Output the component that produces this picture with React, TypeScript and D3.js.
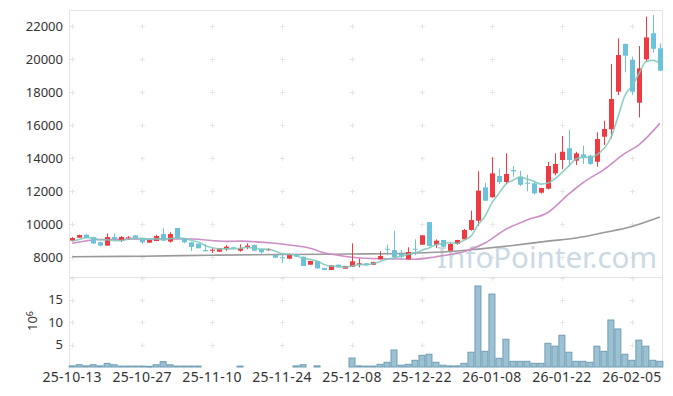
import * as d3 from 'd3'
import { useEffect, useRef } from 'react'

// x-axis ticks: every 10 trading days
const tickIndex = [0, 10, 20, 30, 40, 50, 60, 70, 80]
const tickLabels = ['25-10-13', '25-10-27', '25-11-10', '25-11-24', '25-12-08', '25-12-22', '26-01-08', '26-01-22', '26-02-05']

const priceTicks = [8000, 10000, 12000, 14000, 16000, 18000, 20000, 22000]
const volumeTicks = [5, 10, 15]

// daily OHLC, 85 trading days
const open = [
  8990, 9170, 9350, 9200, 8900, 8690, 9210, 8990, 9150, 9310,
  9170, 8870, 8970, 9390, 8930, 9760, 9130, 8890, 8810, 8420,
  8390, 8320, 8470, 8590, 8380, 8606, 8727, 8485, 8406, 8120,
  7980, 7900, 8180, 8020, 7535, 7760, 7330, 7215, 7535, 7290,
  7410, 7535, 7620, 7535, 7860, 8500, 8420, 8180, 7860, 8500,
  8745, 10120, 8745, 9030, 8380, 8790, 9070, 9640, 10200, 12220,
  11620, 12910, 12545, 13270, 12870, 12500, 12466, 11900, 12140, 13070,
  13880, 14590, 13840, 14220, 14140, 13775, 15290, 15740, 18020, 20910,
  19940, 17350, 19980, 21560, 20650,
]
const high = [
  9200, 9350, 9400, 9230, 8930, 9430, 9430, 9270, 9260, 9330,
  9180, 9040, 9340, 9740, 9500, 9770, 9140, 8900, 8830, 8770,
  8530, 8540, 8730, 8620, 8770, 8830, 8760, 8500, 8540, 8140,
  8120, 8220, 8200, 8030, 7780, 7780, 7350, 7500, 7550, 7460,
  8830, 7900, 7640, 7710, 8345, 8745, 9590, 8424, 8590, 9073,
  9330, 10130, 9070, 9040, 8850, 9040, 9700, 10806, 13193, 12502,
  14042, 13351, 14284, 13515, 13230, 12987, 12545, 12200, 13757, 14284,
  15333, 15696, 14381, 14745, 14200, 15557, 16260, 19696, 21253, 20950,
  20138, 20787, 22562, 22665, 20950,
]
const low = [
  8960, 9150, 9140, 8800, 8630, 8680, 9060, 8910, 9030, 9100,
  8800, 8850, 8960, 8980, 8870, 9120, 8830, 8370, 8520, 8330,
  8240, 8300, 8380, 8500, 8320, 8467, 8360, 8200, 8380, 7950,
  7620, 7860, 8000, 7450, 7520, 7290, 7200, 7200, 7370, 7280,
  7400, 7376, 7480, 7520, 7850, 8103, 7970, 7860, 7850, 8103,
  8730, 8650, 8550, 8600, 8370, 8740, 9060, 9600, 9879, 11400,
  11600, 12424, 12424, 12866, 12303, 11981, 11775, 11850, 12100, 12950,
  13315, 13472, 13575, 13640, 13580, 13472, 14787, 15193, 17817, 19193,
  17817, 16466, 19835, 20381, 19290,
]
const close = [
  9150, 9330, 9160, 8820, 8690, 9210, 9080, 9210, 9190, 9110,
  8890, 9030, 9270, 8990, 9390, 9130, 8890, 8610, 8530, 8350,
  8440, 8527, 8624, 8530, 8527, 8685, 8382, 8285, 8485, 7960,
  7920, 8160, 8020, 7460, 7760, 7310, 7210, 7495, 7375, 7455,
  7740, 7620, 7500, 7700, 8060, 8440, 7980, 8020, 8300, 8460,
  9315, 8670, 8990, 8625, 8790, 9030, 9640, 10240, 12020, 11410,
  13070, 12545, 13030, 13195, 12380, 12466, 11860, 12180, 13515, 13640,
  14380, 13880, 14280, 14020, 13640, 15150, 15760, 17575, 20240, 20200,
  18020, 19430, 21310, 20620, 19290,
]
// volume in millions of shares
const volumeM = [
  0.25, 0.5, 0.25, 0.5, 0.25, 0.8, 0.5, 0.2, 0.2, 0.2,
  0.2, 0.15, 0.5, 1.2, 0.5, 0.2, 0.2, 0.2, 0.2, 0,
  0, 0, 0, 0, 0.2, 0, 0, 0, 0, 0,
  0, 0, 0.25, 0.5, 0, 0.25, 0, 0, 0, 0,
  2.0, 0.25, 0.2, 0.2, 0.6, 1.05, 3.8, 0.4, 0.6, 1.5,
  2.6, 2.85, 1.05, 0.4, 0.25, 0.25, 0.83, 3.3, 18.1, 3.5,
  16.3, 1.95, 6.2, 1.27, 1.27, 1.27, 0.83, 0.83, 5.3, 4.65,
  7.1, 3.3, 1.27, 1.27, 1.05, 4.65, 3.5, 10.5, 8.5, 2.85,
  1.5, 6.0, 4.65, 1.5, 1.27,
]

// first 4 points of the 5-day average (need closes from before the window)
const ma5Head = [8950, 9060, 9170, 9160]
// 20-day and 60-day averages
const ma20Idx = [0, 4, 10, 17, 22, 24, 29, 31, 34, 36, 38, 40, 44, 49, 52, 54, 56, 59, 62, 65, 68, 71, 73, 76, 79, 81, 84]
const ma20Val = [8830, 9060, 9090, 9090, 8950, 8960, 8830, 8730, 8530, 8260, 8110, 7990, 7890, 7860, 8020, 8150, 8320, 8850, 9680, 10240, 10700, 11820, 12500, 13300, 14280, 14800, 16100]
const ma60Idx = [0, 10, 20, 30, 40, 48, 54, 58, 63, 68, 72, 76, 80, 84]
const ma60Val = [8020, 8050, 8110, 8150, 8180, 8230, 8330, 8480, 8700, 8960, 9150, 9480, 9850, 10420]

const UP = '#ef3a41'
const DOWN = '#6cc2db'

export default function App() {
  const svgRef = useRef<SVGSVGElement>(null)

  useEffect(() => {
    if (!svgRef.current) return
    const svg = d3.select(svgRef.current)
    svg.selectAll('*').remove()

    const left = 69
    const right = 663
    const top = 10
    const mid = 277.5
    const bottom = 367

    const x = d3.scaleLinear().domain([-0.45, 84.45]).range([left, right])
    const y = d3.scaleLinear().domain([6758, 22970]).range([mid, top])
    const yv = d3.scaleLinear().domain([0, 20]).range([bottom, mid])

    const n = close.length
    const ma5 = close.map((c, i) =>
      i < 4 ? ma5Head[i] : d3.mean(close.slice(i - 4, i + 1))!
    )

    // grid crosses
    const grid = svg.append('g').attr('stroke', '#e6e6e6').attr('stroke-width', 1)
    const crossRows = [...priceTicks.map(v => y(v)), ...volumeTicks.map(v => yv(v)), mid]
    tickIndex.forEach(t => {
      const cx = Math.round(x(t)) + 0.5
      crossRows.forEach(ry => {
        const cy = Math.round(ry) + 0.5
        grid.append('line').attr('x1', cx - 2.5).attr('x2', cx + 2.5).attr('y1', cy).attr('y2', cy)
        grid.append('line').attr('x1', cx).attr('x2', cx).attr('y1', cy - 2.5).attr('y2', cy + 2.5)
      })
    })

    // borders
    const border = svg.append('g').attr('stroke', '#e4e4e4').attr('stroke-width', 1)
    border.append('line').attr('x1', left).attr('x2', right).attr('y1', top + 0.5).attr('y2', top + 0.5)
    border.append('line').attr('x1', left).attr('x2', right).attr('y1', mid).attr('y2', mid)
    border.append('line').attr('x1', left + 0.5).attr('x2', left + 0.5).attr('y1', top).attr('y2', bottom)
    border.append('line').attr('x1', right - 0.5).attr('x2', right - 0.5).attr('y1', top).attr('y2', bottom)

    // watermark
    svg
      .append('text')
      .attr('x', 437)
      .attr('y', 268)
      .style('font-size', '29.5px')
      .style('fill', '#c2d3df')
      .style('opacity', 0.85)
      .text('InfoPointer.com')

    // moving averages under candles
    const ma60Line = d3
      .line<number>()
      .x((_, k) => x(ma60Idx[k]))
      .y(v => y(v))
      .curve(d3.curveMonotoneX)
    const ma20Line = d3
      .line<number>()
      .x((_, k) => x(ma20Idx[k]))
      .y(v => y(v))
      .curve(d3.curveMonotoneX)

    svg
      .append('path')
      .attr('d', ma60Line(ma60Val))
      .attr('fill', 'none')
      .attr('stroke', '#999999')
      .attr('stroke-width', 1.6)
    svg
      .append('path')
      .attr('d', ma20Line(ma20Val))
      .attr('fill', 'none')
      .attr('stroke', '#cd8fc6')
      .attr('stroke-width', 1.6)

    // candles
    const candles = svg.append('g')
    d3.range(n).forEach(i => {
      const up = close[i] >= open[i]
      const color = up ? UP : DOWN
      const cx = Math.round(x(i)) + 0.5
      candles
        .append('line')
        .attr('x1', cx)
        .attr('x2', cx)
        .attr('y1', y(high[i]))
        .attr('y2', y(low[i]))
        .attr('stroke', color)
        .attr('stroke-width', 1)
      const y0 = y(Math.max(open[i], close[i]))
      const y1 = y(Math.min(open[i], close[i]))
      candles
        .append('rect')
        .attr('x', cx - 2.5)
        .attr('width', 5)
        .attr('y', y0)
        .attr('height', Math.max(1, y1 - y0))
        .attr('fill', color)
    })

    // 5-day average on top
    const ma5Line = d3
      .line<number>()
      .x((_, k) => x(k))
      .y(v => y(v))
      .curve(d3.curveMonotoneX)
    svg
      .append('path')
      .attr('d', ma5Line(ma5))
      .attr('fill', 'none')
      .attr('stroke', '#7fc8bb')
      .attr('stroke-opacity', 0.85)
      .attr('stroke-width', 1.6)

    // volume bars
    const bars = svg.append('g')
    d3.range(n).forEach(i => {
      if (volumeM[i] <= 0) return
      const bx = x(i) - 3.5
      const by = yv(volumeM[i])
      bars
        .append('rect')
        .attr('x', bx + 0.5)
        .attr('width', 6)
        .attr('y', by)
        .attr('height', Math.max(0.8, bottom - by))
        .attr('fill', '#9cc1d2')
        .attr('stroke', '#6f9db3')
        .attr('stroke-width', 1)
    })

    // axis labels
    const labels = svg.append('g').style('font-size', '13px').style('fill', '#333')
    priceTicks.forEach(v => {
      labels
        .append('text')
        .attr('x', 63)
        .attr('y', y(v))
        .attr('dy', '0.35em')
        .attr('text-anchor', 'end')
        .text(v)
    })
    volumeTicks.forEach(v => {
      labels
        .append('text')
        .attr('x', 63)
        .attr('y', yv(v))
        .attr('dy', '0.35em')
        .attr('text-anchor', 'end')
        .text(v)
    })
    tickIndex.forEach((t, k) => {
      labels
        .append('text')
        .attr('x', x(t))
        .attr('y', 382)
        .attr('text-anchor', 'middle')
        .style('font-size', '14px')
        .style('letter-spacing', '0.3px')
        .text(tickLabels[k])
    })

    const unit = labels
      .append('text')
      .attr('transform', 'translate(37,321) rotate(-90)')
      .attr('text-anchor', 'middle')
    unit.append('tspan').text('10')
    unit.append('tspan').attr('dy', '-0.45em').style('font-size', '9px').text('6')
  }, [])

  return (
    <svg
      ref={svgRef}
      width={673}
      height={396}
      style={{ position: 'absolute', left: 0, top: 0, fontFamily: '"Noto Sans", sans-serif', background: '#fff' }}
    />
  )
}
